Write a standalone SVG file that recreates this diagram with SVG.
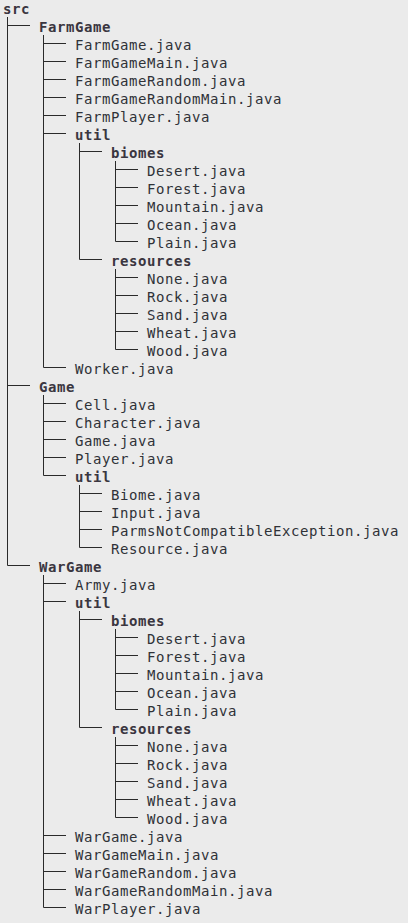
<svg xmlns="http://www.w3.org/2000/svg" width="408" height="923" viewBox="0 0 408 923">
<style>
text{font-family:"DejaVu Sans Mono","Liberation Mono",monospace;font-size:14px;letter-spacing:0.57px;fill:#2f3238}
.d{font-weight:bold;fill:#3a3640}
.c path{stroke:#2a2a2a;stroke-width:1;fill:none}
</style>
<rect width="408" height="923" fill="#ebebeb"/>
<g class="c" id="connectors">
<path d="M7.5 17V565.5M43.5 35V367.5M79.5 143V259.5M115.5 161V241.5M115.5 269V349.5M43.5 395V475.5M79.5 485V547.5M43.5 575V907.5M79.5 611V727.5M115.5 629V709.5M115.5 737V817.5"/>
<path d="M7.5 25.5H30M7.5 385.5H30M7.5 565.5H30"/>
<path d="M43.5 43.5H66M43.5 61.5H66M43.5 79.5H66M43.5 97.5H66M43.5 115.5H66M43.5 133.5H66M43.5 367.5H66M43.5 403.5H66M43.5 421.5H66M43.5 439.5H66M43.5 457.5H66M43.5 475.5H66M43.5 583.5H66M43.5 601.5H66M43.5 835.5H66M43.5 853.5H66M43.5 871.5H66M43.5 889.5H66M43.5 907.5H66"/>
<path d="M79.5 151.5H102M79.5 259.5H102M79.5 493.5H102M79.5 511.5H102M79.5 529.5H102M79.5 547.5H102M79.5 619.5H102M79.5 727.5H102"/>
<path d="M115.5 169.5H138M115.5 187.5H138M115.5 205.5H138M115.5 223.5H138M115.5 241.5H138M115.5 277.5H138M115.5 295.5H138M115.5 313.5H138M115.5 331.5H138M115.5 349.5H138M115.5 637.5H138M115.5 655.5H138M115.5 673.5H138M115.5 691.5H138M115.5 709.5H138M115.5 745.5H138M115.5 763.5H138M115.5 781.5H138M115.5 799.5H138M115.5 817.5H138"/>
</g>
<g id="src"><text class="d" x="3" y="14">src</text></g>
<g id="farmgame"><text class="d" x="39" y="32">FarmGame</text></g>
<g id="fg-farmgame"><text x="75" y="50">FarmGame.java</text></g>
<g id="fg-farmgamemain"><text x="75" y="68">FarmGameMain.java</text></g>
<g id="fg-farmgamerandom"><text x="75" y="86">FarmGameRandom.java</text></g>
<g id="fg-farmgamerandommain"><text x="75" y="104">FarmGameRandomMain.java</text></g>
<g id="fg-farmplayer"><text x="75" y="122">FarmPlayer.java</text></g>
<g id="fg-util"><text class="d" x="75" y="140">util</text></g>
<g id="fg-biomes"><text class="d" x="111" y="158">biomes</text></g>
<g id="fg-b-desert"><text x="147" y="176">Desert.java</text></g>
<g id="fg-b-forest"><text x="147" y="194">Forest.java</text></g>
<g id="fg-b-mountain"><text x="147" y="212">Mountain.java</text></g>
<g id="fg-b-ocean"><text x="147" y="230">Ocean.java</text></g>
<g id="fg-b-plain"><text x="147" y="248">Plain.java</text></g>
<g id="fg-resources"><text class="d" x="111" y="266">resources</text></g>
<g id="fg-r-none"><text x="147" y="284">None.java</text></g>
<g id="fg-r-rock"><text x="147" y="302">Rock.java</text></g>
<g id="fg-r-sand"><text x="147" y="320">Sand.java</text></g>
<g id="fg-r-wheat"><text x="147" y="338">Wheat.java</text></g>
<g id="fg-r-wood"><text x="147" y="356">Wood.java</text></g>
<g id="fg-worker"><text x="75" y="374">Worker.java</text></g>
<g id="game"><text class="d" x="39" y="392">Game</text></g>
<g id="g-cell"><text x="75" y="410">Cell.java</text></g>
<g id="g-character"><text x="75" y="428">Character.java</text></g>
<g id="g-game"><text x="75" y="446">Game.java</text></g>
<g id="g-player"><text x="75" y="464">Player.java</text></g>
<g id="g-util"><text class="d" x="75" y="482">util</text></g>
<g id="g-biome"><text x="111" y="500">Biome.java</text></g>
<g id="g-input"><text x="111" y="518">Input.java</text></g>
<g id="g-parms"><text x="111" y="536">ParmsNotCompatibleException.java</text></g>
<g id="g-resource"><text x="111" y="554">Resource.java</text></g>
<g id="wargame"><text class="d" x="39" y="572">WarGame</text></g>
<g id="wg-army"><text x="75" y="590">Army.java</text></g>
<g id="wg-util"><text class="d" x="75" y="608">util</text></g>
<g id="wg-biomes"><text class="d" x="111" y="626">biomes</text></g>
<g id="wg-b-desert"><text x="147" y="644">Desert.java</text></g>
<g id="wg-b-forest"><text x="147" y="662">Forest.java</text></g>
<g id="wg-b-mountain"><text x="147" y="680">Mountain.java</text></g>
<g id="wg-b-ocean"><text x="147" y="698">Ocean.java</text></g>
<g id="wg-b-plain"><text x="147" y="716">Plain.java</text></g>
<g id="wg-resources"><text class="d" x="111" y="734">resources</text></g>
<g id="wg-r-none"><text x="147" y="752">None.java</text></g>
<g id="wg-r-rock"><text x="147" y="770">Rock.java</text></g>
<g id="wg-r-sand"><text x="147" y="788">Sand.java</text></g>
<g id="wg-r-wheat"><text x="147" y="806">Wheat.java</text></g>
<g id="wg-r-wood"><text x="147" y="824">Wood.java</text></g>
<g id="wg-wargame"><text x="75" y="842">WarGame.java</text></g>
<g id="wg-wargamemain"><text x="75" y="860">WarGameMain.java</text></g>
<g id="wg-wargamerandom"><text x="75" y="878">WarGameRandom.java</text></g>
<g id="wg-wargamerandommain"><text x="75" y="896">WarGameRandomMain.java</text></g>
<g id="wg-warplayer"><text x="75" y="914">WarPlayer.java</text></g>
<g id="summary"><text x="3" y="935">10 directories, 40 files</text></g>
</svg>
